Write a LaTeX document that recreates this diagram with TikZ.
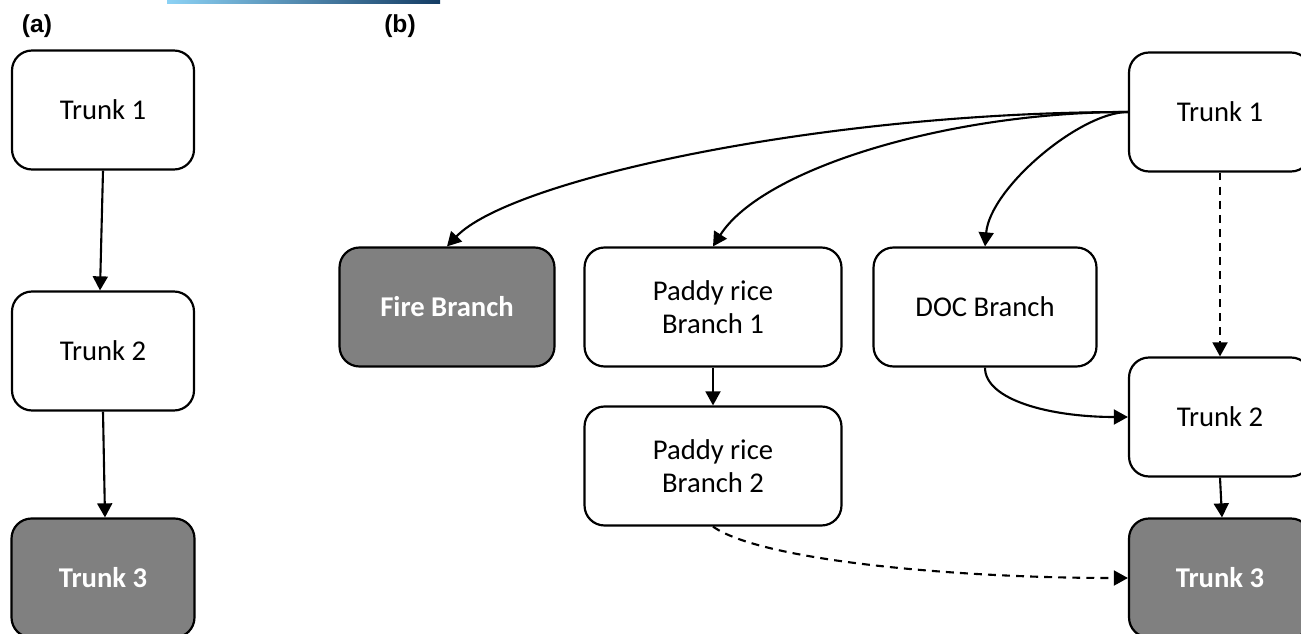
\documentclass[tikz,border=0pt]{standalone}
\usepackage{fontspec}
\setmainfont{Carlito}
\newfontfamily\panelfont{Liberation Sans}
\usetikzlibrary{arrows.meta, positioning, shapes.geometric, calc}
\definecolor{darkfill}{RGB}{128, 128, 128}
\definecolor{barleft}{RGB}{140, 210, 245}
\definecolor{barright}{RGB}{20, 60, 100}

\tikzset{
    box/.style={draw, line width=1.25pt, rounded corners=0.4cm, fill=white,
        minimum height=2.38cm, align=center, font=\fontsize{16.3}{18.6}\selectfont},
    darkbox/.style={box, fill=darkfill, text=white, font=\fontsize{16.3}{18.6}\selectfont\bfseries},
    flow/.style={line width=1.2pt, -{Triangle[length=8pt, width=8.5pt]}},
    weak/.style={flow, dash pattern=on 4.5pt off 3.5pt},
    panel/.style={font=\panelfont\bfseries\fontsize{14}{16}\selectfont}
}

\begin{document}
\begin{tikzpicture}[x=0.02cm, y=0.02cm]
    \useasboundingbox (0,0) rectangle (1301,633);
    \clip (0,0) rectangle (1301,633);

    % Streifen oben
    \shade[left color=barleft, right color=barright] (167,629) rectangle (440,634);

    % Teil (a)
    \node[panel] (labela) at (37,607) {(a)};
    \node[box, minimum width=3.64cm] (t1a) at (103,523) {Trunk 1};
    \node[box, minimum width=3.64cm] (t2a) at (103,282) {Trunk 2};
    \node[darkbox, minimum width=3.66cm] (t3a) at (103,55) {Trunk 3};

    \draw[flow] (t1a.south) -- ($(t2a.north)+(-3,0)$);
    \draw[flow] (t2a.south) -- ($(t3a.north)+(2,0)$);

    % Teil (b)
    \node[panel] (labelb) at (400,607) {(b)};
    \node[box, minimum width=3.64cm] (t1b) at (1220,521) {Trunk 1};
    \node[darkbox, minimum width=4.3cm] (fire) at (447,326) {Fire Branch};
    \node[box, minimum width=5.14cm] (rice1) at (713,326) {Paddy rice\\Branch 1};
    \node[box, minimum width=4.46cm] (doc) at (985,326) {DOC Branch};
    \node[box, minimum width=5.14cm] (rice2) at (713,167) {Paddy rice\\Branch 2};
    \node[box, minimum width=3.64cm] (t2b) at (1220,216) {Trunk 2};
    \node[darkbox, minimum width=3.64cm] (t3b) at (1220,55) {Trunk 3};

    % Verzweigungen
    \draw[flow] (t1b.west) .. controls (820,521) and (510,453) .. (fire.north);
    \draw[flow] (t1b.west) .. controls (950,521) and (763,465) .. (rice1.north);
    \draw[flow] (t1b.west) .. controls (1080,521) and (990,445) .. (doc.north);

    \draw[weak] (t1b.south) -- (t2b.north);
    \draw[flow] (doc.south) .. controls (985,233) and (1050,216) .. (t2b.west);
    \draw[flow] (rice1.south) -- (rice2.north);
    \draw[weak] (rice2.south) .. controls (760,73) and (950,55) .. (t3b.west);
    \draw[flow] (t2b.south) -- ($(t3b.north)+(2,0)$);
\end{tikzpicture}
\end{document}
